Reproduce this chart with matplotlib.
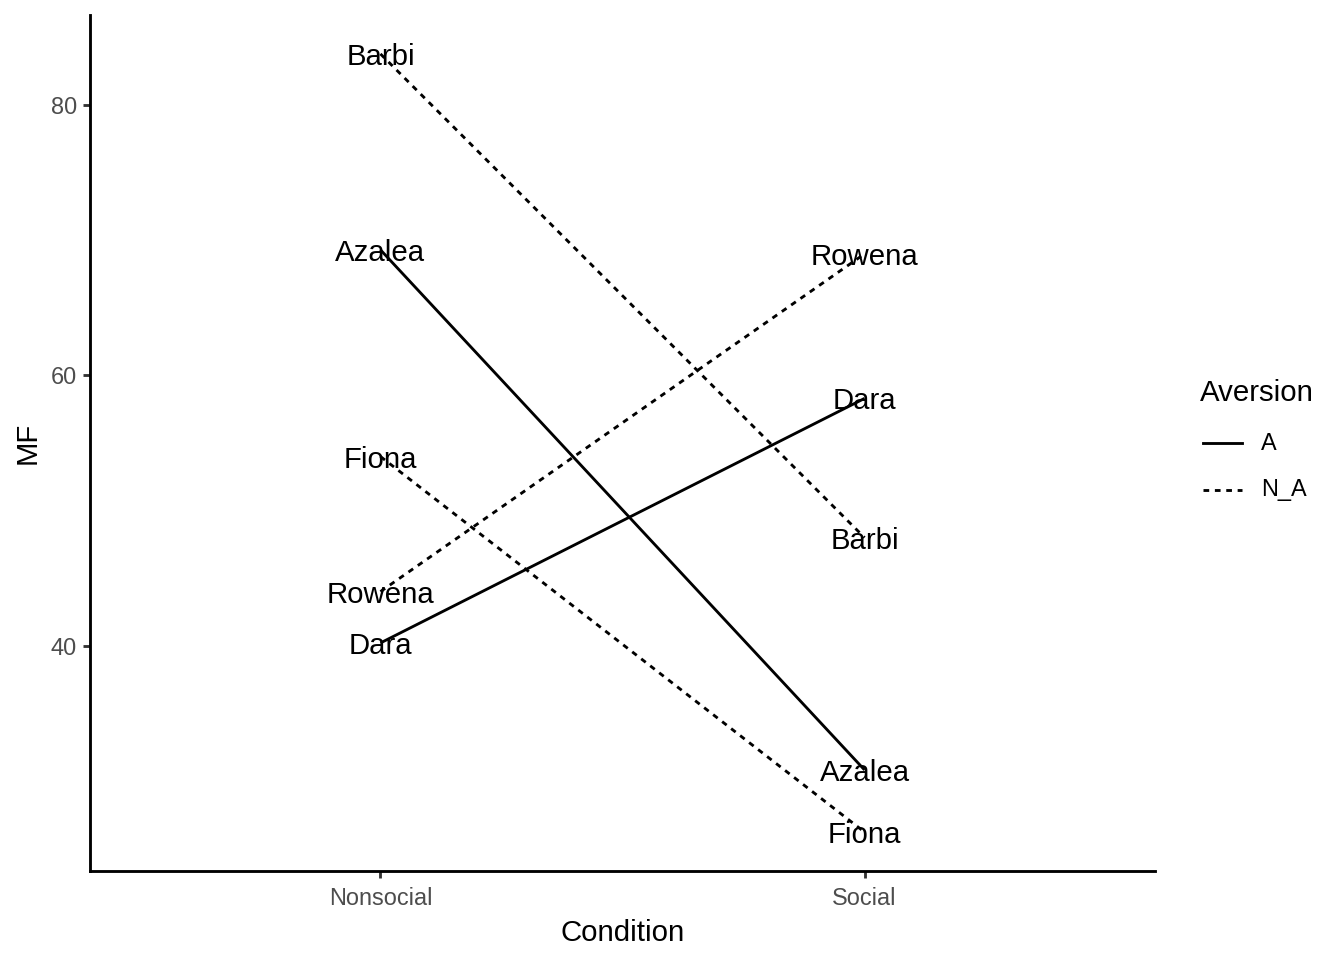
import matplotlib
matplotlib.use("Agg")
import matplotlib.pyplot as plt
from matplotlib.lines import Line2D

persons = ["Barbi", "Azalea", "Rowena", "Dara", "Fiona"]
aversion = ["N_A", "A", "N_A", "A", "N_A"]
conditions = ["Nonsocial", "Social"]
nonsocial = [83.8, 69.3, 44.0, 40.2, 54.0]
social = [48.0, 30.8, 69.0, 58.3, 26.2]
yticks = [40, 60, 80]
legend_levels = ["A", "N_A"]

plt.rcParams['font.family'] = ['Liberation Sans', 'DejaVu Sans']

S = 1.92
lw = 0.5 * 72.27 / 25.4 / 96 * 72 * S  # ggplot linewidth 0.5 -> pt
styles = {"A": "-", "N_A": (0, (2, 2))}

fig = plt.figure(figsize=(13.44, 9.6), dpi=100)
ax = fig.add_axes([90 / 1344, 89 / 960, (1155 - 90) / 1344, (871 - 15) / 960])

xs = [1, 2]
for p, a, n, s in zip(persons, aversion, nonsocial, social):
    ax.plot(xs, [n, s], color="black", lw=lw, linestyle=styles[a], zorder=3,
            solid_capstyle="butt", dash_capstyle="butt")
    for x, v in zip(xs, [n, s]):
        ax.text(x, v, p, ha="center", va="center_baseline", fontsize=11 * S,
                color="black", zorder=2)

allv = nonsocial + social
lo, hi = min(allv), max(allv)
pad = (hi - lo) * 0.05
ax.set_ylim(lo - pad, hi + pad)
ax.set_xlim(0.4, 2.6)
ax.set_xticks(xs)
ax.set_xticklabels(conditions)
ax.set_yticks(yticks)

for side in ["top", "right"]:
    ax.spines[side].set_visible(False)
for side in ["left", "bottom"]:
    ax.spines[side].set_linewidth(lw)
    ax.spines[side].set_color("black")
ax.tick_params(axis="both", length=2.75 * S, width=lw, color="#333333",
               labelcolor="#4D4D4D", labelsize=8.8 * S, pad=2.2 * S)
ax.tick_params(axis="x", pad=2.2 * S + 2)

ax.set_xlabel("Condition", fontsize=11 * S, labelpad=2.75 * S + 1)
ax.set_ylabel("MF", fontsize=11 * S, labelpad=2.75 * S + 1)

# legend drawn manually
fig.text(1200 / 1344, 1 - 393 / 960, "Aversion", fontsize=11 * S, ha="left", va="center")
for i, lev in enumerate(legend_levels):
    yy = 1 - (443 + i * 47) / 960
    fig.add_artist(Line2D([1203 / 1344, 1242 / 1344], [yy, yy], color="black", lw=lw,
                          linestyle=styles[lev], transform=fig.transFigure))
    fig.text(1261 / 1344, yy, lev, fontsize=8.8 * S, ha="left", va="center", color="black")

fig.savefig("out.png", dpi=100, facecolor="white")
